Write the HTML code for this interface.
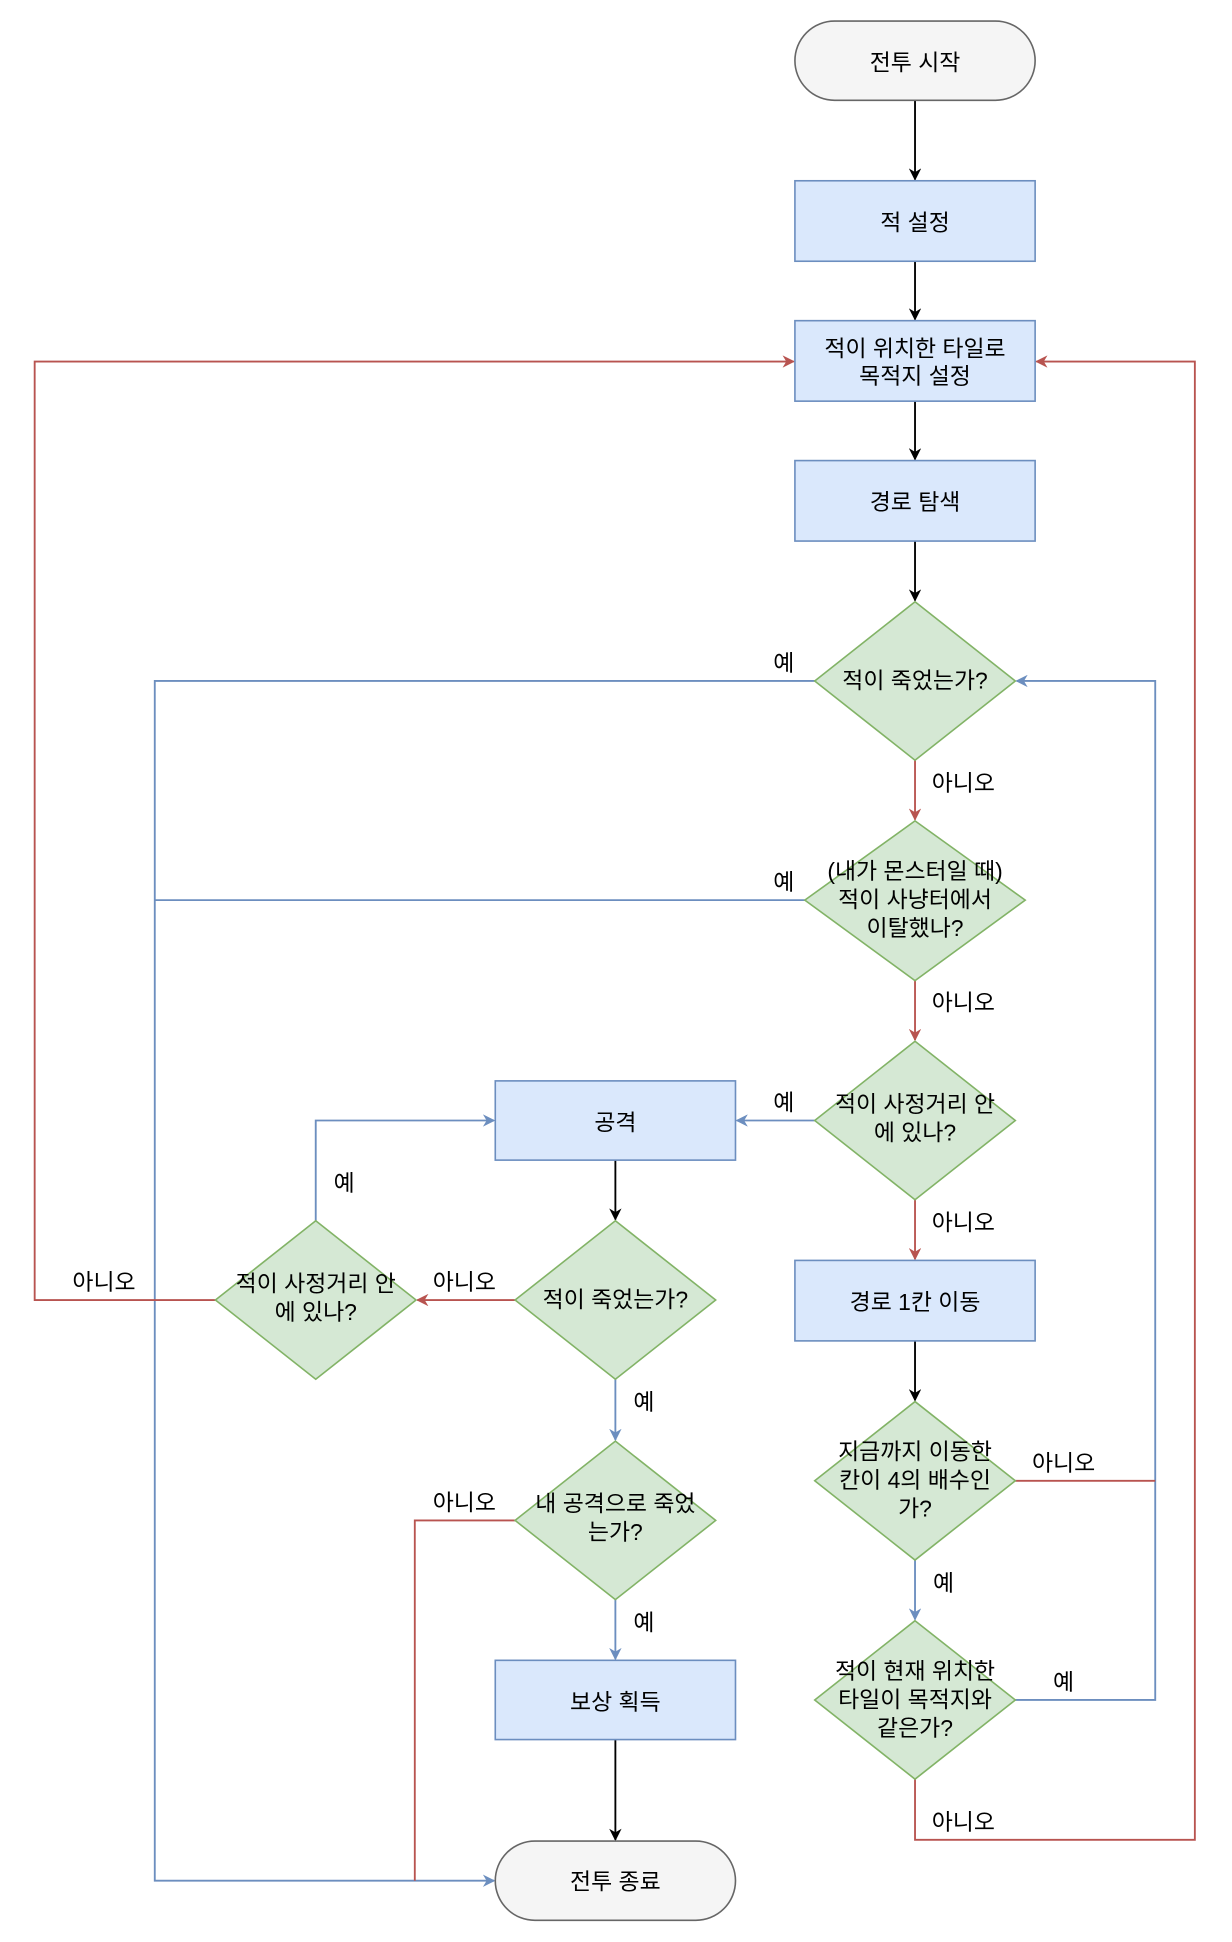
<!DOCTYPE html>
<html><head><meta charset="utf-8"><style>html,body{margin:0;padding:0;background:#fff}svg{display:block}text{font-family:"Liberation Sans","Noto Sans CJK KR",sans-serif;font-size:18.5px;fill:#000}</style></head>
<body>
<svg width="1232" height="1942" viewBox="0 0 995 1568.5" preserveAspectRatio="none" xmlns="http://www.w3.org/2000/svg">
<defs>
<marker id="ak" markerWidth="10" markerHeight="10" refX="9" refY="5" orient="auto" markerUnits="userSpaceOnUse"><path d="M0,0 L10,5 L0,10 L3,5z" fill="#000"/></marker>
<marker id="ab" markerWidth="10" markerHeight="10" refX="9" refY="5" orient="auto" markerUnits="userSpaceOnUse"><path d="M0,0 L10,5 L0,10 L3,5z" fill="#6c8ebf"/></marker>
<marker id="ar" markerWidth="10" markerHeight="10" refX="9" refY="5" orient="auto" markerUnits="userSpaceOnUse"><path d="M0,0 L10,5 L0,10 L3,5z" fill="#b85450"/></marker>
</defs>
<g fill="none" stroke-width="1.5">
<g stroke="#000" marker-end="url(#ak)">
<path d="M739,81V145"/><path d="M739,211V258"/><path d="M739,324V371"/><path d="M739,437V485"/>
<path d="M739,1083V1131"/><path d="M497,937V985"/><path d="M497,1405V1486"/>
</g>
<g stroke="#6c8ebf">
<path d="M658,550H125V1519H399" marker-end="url(#ab)"/>
<path d="M650,727H125"/>
<path d="M658,905H595" marker-end="url(#ab)"/>
<path d="M739,1260V1308" marker-end="url(#ab)"/>
<path d="M820,1373H933V550H821" marker-end="url(#ab)"/>
<path d="M255,986V905H399" marker-end="url(#ab)"/>
<path d="M497,1114V1163" marker-end="url(#ab)"/>
<path d="M497,1292V1340" marker-end="url(#ab)"/>
</g>
<g stroke="#b85450">
<path d="M739,614V662" marker-end="url(#ar)"/>
<path d="M739,792V840" marker-end="url(#ar)"/>
<path d="M739,969V1017" marker-end="url(#ar)"/>
<path d="M820,1196H933"/>
<path d="M739,1437V1486H965V292H837" marker-end="url(#ar)"/>
<path d="M174,1050H28V292H641" marker-end="url(#ar)"/>
<path d="M416,1050H337" marker-end="url(#ar)"/>
<path d="M416,1228H335V1519"/>
</g>
</g>
<g stroke-width="1.3">
<rect x="642" y="17" width="194" height="64" rx="32" fill="#f5f5f5" stroke="#666"/>
<rect x="400" y="1487" width="194" height="64" rx="32" fill="#f5f5f5" stroke="#666"/>
<g fill="#dae8fc" stroke="#6c8ebf">
<rect x="642" y="146" width="194" height="65"/><rect x="642" y="259" width="194" height="65"/>
<rect x="642" y="372" width="194" height="65"/><rect x="642" y="1018" width="194" height="65"/>
<rect x="400" y="873" width="194" height="64"/><rect x="400" y="1341" width="194" height="64"/>
</g>
<g fill="#d5e8d4" stroke="#82b366">
<path d="M739,486L820,550L739,614L658,550z"/>
<path d="M739,663L828,727L739,792L650,727z"/>
<path d="M739,841L820,905L739,969L658,905z"/>
<path d="M739,1132L820,1196L739,1260L658,1196z"/>
<path d="M739,1309L820,1373L739,1437L658,1373z"/>
<path d="M497,986L578,1050L497,1114L416,1050z"/>
<path d="M255,986L336,1050L255,1114L174,1050z"/>
<path d="M497,1164L578,1228L497,1292L416,1228z"/>
</g>
</g>
<g text-anchor="middle">
<text x="739" y="57" fill="#333">전투 시작</text>
<text x="497" y="1526" fill="#333">전투 종료</text>
<text x="739" y="186">적 설정</text>
<text x="739" y="288">적이 위치한 타일로</text><text x="739" y="310">목적지 설정</text>
<text x="739" y="412">경로 탐색</text>
<text x="739" y="556">적이 죽었는가?</text>
<text x="739" y="710">(내가 몬스터일 때)</text><text x="739" y="733">적이 사냥터에서</text><text x="739" y="756">이탈했나?</text>
<text x="739" y="898">적이 사정거리 안</text><text x="739" y="921">에 있나?</text>
<text x="739" y="1058">경로 1칸 이동</text>
<text x="739" y="1179">지금까지 이동한</text><text x="739" y="1202">칸이 4의 배수인</text><text x="739" y="1225">가?</text>
<text x="739" y="1356">적이 현재 위치한</text><text x="739" y="1379">타일이 목적지와</text><text x="739" y="1402">같은가?</text>
<text x="497" y="913">공격</text>
<text x="497" y="1056">적이 죽었는가?</text>
<text x="255" y="1043">적이 사정거리 안</text><text x="255" y="1066">에 있나?</text>
<text x="497" y="1221">내 공격으로 죽었</text><text x="497" y="1244">는가?</text>
<text x="497" y="1381">보상 획득</text>
<text x="633" y="542">예</text><text x="633" y="719">예</text><text x="633" y="897">예</text>
<text x="778" y="639">아니오</text><text x="778" y="816">아니오</text><text x="778" y="994">아니오</text>
<text x="859" y="1188">아니오</text><text x="762" y="1285">예</text><text x="859" y="1365">예</text>
<text x="778" y="1478">아니오</text>
<text x="84" y="1042">아니오</text><text x="278" y="962">예</text><text x="375" y="1042">아니오</text>
<text x="520" y="1139">예</text><text x="375" y="1220">아니오</text><text x="520" y="1317">예</text>
</g>
</svg>
</body></html>
